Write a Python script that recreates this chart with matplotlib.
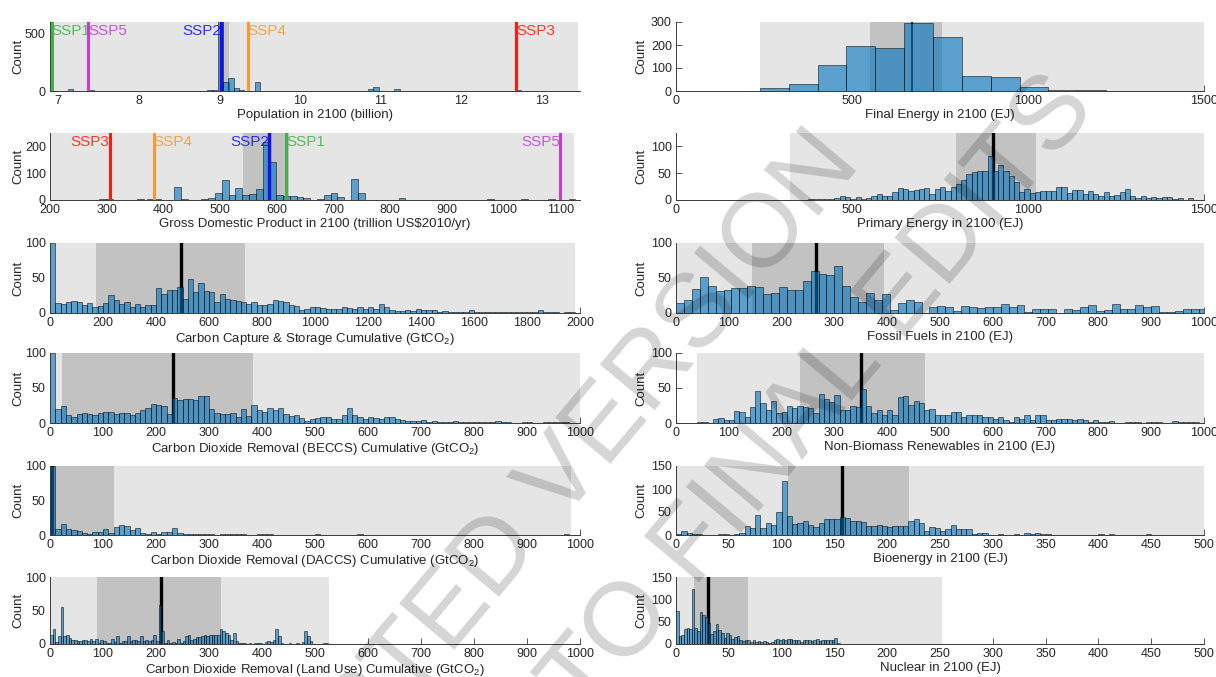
import matplotlib
matplotlib.use('Agg')
import matplotlib.pyplot as plt
import numpy as np

plt.rcParams['font.family'] = ['Liberation Sans', 'DejaVu Sans']
plt.rcParams['mathtext.default'] = 'regular'

# ---------------- data ----------------
# population in 2100 (billion): sparse bins, width 0.066
pop_left = [7.12, 7.38, 7.58, 8.78, 8.85, 8.91, 8.98, 9.05, 9.11, 9.18, 9.24, 9.31,
            9.44, 9.64, 10.84, 10.91, 11.17, 12.60, 12.67, 12.74]
pop_counts = [15, 8, 2, 4, 5, 5, 700, 75, 115, 28, 8, 3,
              75, 2, 15, 38, 15, 3, 5, 4]
pop_stats = (6.9, 13.45, 9.02, 9.12, 9.02)   # min, max, q1, q3, median
pop_ssp = ['SSP1', 'SSP5', 'SSP2', 'SSP4', 'SSP3']
pop_ssp_x = [6.92, 7.37, 9.02, 9.35, 12.68]

# GDP in 2100 (trillion US$2010/yr): sparse bins, width 12
gdp_left = [287, 299, 353, 371, 383, 419, 431, 467, 479, 491, 503, 515, 527, 539, 551,
            563, 575, 587, 599, 611, 623, 635, 647, 671, 683, 695, 707, 731, 743,
            815, 971, 1031, 1079, 1115]
gdp_counts = [3, 5, 3, 4, 4, 50, 2, 4, 6, 25, 75, 20, 45, 18, 22,
              40, 215, 140, 18, 15, 15, 10, 6, 5, 20, 25, 12, 80, 25,
              8, 2, 3, 2, 5]
gdp_stats = (200, 1125, 540, 621, 586)
gdp_ssp = ['SSP3', 'SSP4', 'SSP2', 'SSP1', 'SSP5']
gdp_ssp_x = [305, 383, 587, 617, 1100]

# carbon capture & storage cumulative, bins of 20 from 0
ccs_counts = [100, 14, 13, 16, 17, 16, 12, 14, 8, 10, 14, 25, 19, 13, 15, 8, 13, 9, 11, 11,
              35, 27, 33, 33, 37, 20, 48, 30, 43, 31, 30, 15, 27, 20, 18, 17, 15, 13, 15, 12,
              11, 13, 19, 17, 16, 11, 10, 4, 5, 8, 9, 7, 6, 6, 5, 8, 7, 6, 9, 5,
              8, 5, 13, 8, 4, 3, 3, 4, 3, 5, 4, 4, 4, 2, 3, 2, 2, 1, 2, 4,
              1, 2, 1, 1, 1, 2, 1, 1, 1, 1, 1, 2, 4, 1, 1, 1, 0, 1, 1, 0]
ccs_stats = (0, 1980, 175, 735, 493)

# CDR (BECCS) cumulative, bins of 10 from 0
beccs_counts = [100, 20, 24, 11, 8, 13, 14, 13, 11, 15, 16, 16, 13, 14, 14, 12, 14, 18, 22, 27,
                26, 24, 13, 36, 33, 35, 34, 33, 39, 38, 20, 14, 13, 13, 14, 9, 20, 10, 26, 19,
                16, 22, 18, 21, 13, 10, 12, 7, 3, 6, 7, 8, 8, 6, 6, 11, 22, 11, 8, 6,
                8, 7, 6, 8, 9, 6, 4, 3, 3, 3, 4, 2, 3, 1, 2, 2, 3, 2, 2, 1,
                2, 2, 1, 2, 3, 1, 1, 0, 0, 1, 1, 0, 0, 2, 1, 1, 1, 1, 0, 0]
beccs_stats = (0, 1000, 22, 383, 233)

# CDR (DACCS) cumulative, bins of 10 from 0
daccs_counts = [100, 9, 16, 8, 7, 6, 3, 1, 4, 4, 8, 3, 12, 14, 13, 7, 10, 3, 2, 4,
                2, 4, 4, 10, 3, 1, 1, 1, 1, 2, 1, 0, 1, 1, 2, 1, 1, 0, 0, 2,
                1, 1, 0, 0, 0, 0, 0, 0, 0, 0, 1, 0, 0, 0, 0, 0, 0, 0, 1, 0,
                0, 0, 0, 0, 0, 0, 0, 0, 0, 0, 0, 0, 0, 0, 0, 0, 0, 0, 0, 0,
                0, 0, 0, 0, 0, 0, 0, 0, 0, 0, 0, 0, 0, 0, 0, 0, 0, 1]
daccs_stats = (0, 983, 0, 120, 3)

# CDR (land use) cumulative, bins of 5 from 0
land_counts = [13, 23, 3, 12, 55, 12, 13, 9, 6, 6, 5, 4, 6, 6, 5, 7, 4, 7, 1, 6,
               5, 2, 1, 7, 3, 12, 2, 5, 4, 12, 4, 6, 6, 5, 12, 4, 6, 4, 6, 13,
               4, 58, 20, 2, 6, 1, 3, 2, 8, 2, 4, 12, 13, 6, 8, 10, 10, 12, 14, 12,
               13, 13, 13, 13, 22, 20, 17, 13, 6, 17, 4, 2, 1, 1, 0, 1, 0, 2, 1, 1,
               0, 3, 5, 3, 6, 22, 12, 2, 0, 0, 1, 0, 0, 1, 0, 3, 20, 12, 4, 0,
               0, 0, 0, 1, 1]
land_stats = (0, 527, 88, 323, 210)

# final energy in 2100 (EJ), bins of 82 from 156
fe_counts = [2, 12, 30, 115, 195, 186, 294, 234, 66, 63, 18, 5, 3]
fe_stats = (238, 1500, 552, 756, 670)

# primary energy in 2100 (EJ), bins of 15 from 330
pe_counts = [0, 0, 0, 1, 1, 1, 2, 2, 3, 7, 5, 2, 6, 1, 3, 8, 12, 7, 8, 15,
             23, 20, 16, 19, 20, 22, 12, 20, 24, 16, 24, 30, 38, 48, 52, 54, 55, 82, 55, 65,
             55, 45, 34, 15, 20, 13, 15, 16, 16, 17, 25, 25, 13, 18, 18, 12, 16, 12, 8, 14,
             7, 10, 15, 20, 8, 3, 7, 4, 5, 3, 5, 6, 1, 3, 0, 3, 0, 0]
pe_stats = (325, 1500, 795, 1022, 900)

# fossil fuels in 2100 (EJ), bins of 15 from 0
ff_counts = [14, 19, 34, 51, 39, 31, 33, 35, 36, 38, 37, 27, 28, 37, 33, 33, 46, 60, 55, 54,
             67, 39, 23, 16, 29, 18, 27, 4, 14, 19, 16, 0, 9, 10, 8, 3, 10, 8, 7, 8,
             8, 13, 9, 11, 2, 6, 6, 6, 0, 6, 4, 9, 12, 3, 4, 13, 6, 6, 12, 8,
             10, 1, 2, 3, 5, 6, 5]
ff_stats = (0, 1000, 143, 393, 265)

# non-biomass renewables in 2100 (EJ), bins of 10 from 40
nbr_counts = [1, 2, 0, 6, 7, 4, 5, 17, 16, 9, 23, 46, 28, 19, 32, 15, 16, 25, 21, 24,
              23, 21, 14, 42, 35, 30, 40, 18, 18, 25, 23, 48, 24, 14, 19, 12, 19, 12, 37, 39,
              26, 32, 28, 18, 20, 12, 11, 12, 16, 16, 8, 12, 12, 11, 8, 8, 6, 8, 4, 1,
              9, 6, 11, 4, 11, 11, 5, 4, 6, 6, 6, 4, 6, 4, 2, 4, 2, 1, 3, 0,
              0, 2, 2, 1, 0, 1, 2, 1, 0, 0, 3, 2, 1, 1, 1, 0]
nbr_stats = (40, 1000, 235, 472, 350)

# bioenergy in 2100 (EJ), bins of 5 from 0
bio_counts = [2, 9, 5, 2, 3, 1, 1, 1, 2, 3, 1, 2, 5, 20, 15, 43, 15, 27, 22, 50,
              118, 41, 25, 27, 30, 22, 18, 27, 35, 35, 35, 40, 38, 30, 30, 28, 19, 20, 22, 20,
              18, 19, 19, 20, 30, 35, 26, 8, 18, 15, 8, 12, 22, 12, 12, 13, 3, 5, 5, 1,
              0, 2, 1, 0, 2, 1, 4, 2, 4, 3, 2, 1, 0, 0, 0, 0, 0, 0, 1, 1,
              2, 1, 2, 1, 1, 1, 1, 0, 1, 2, 1, 0, 0, 1, 0, 0, 1, 0, 1, 0]
bio_stats = (0, 500, 106, 221, 157)

# nuclear in 2100 (EJ), bins of 2.5 from 0
nuc_counts = [75, 18, 20, 33, 35, 33, 124, 36, 30, 72, 66, 60, 48, 23, 30, 45, 32, 25, 14, 25,
              20, 12, 15, 18, 10, 6, 8, 10, 5, 8, 5, 6, 4, 6, 4, 3, 4, 10, 12, 9,
              12, 10, 12, 11, 9, 8, 8, 5, 9, 10, 8, 7, 10, 12, 7, 9, 9, 8, 10, 8,
              14, 2, 1, 0, 1, 0, 0, 0, 0, 0, 1, 1, 0, 0, 0, 0, 0, 0, 0, 0,
              0, 0, 0, 0, 0, 0, 0, 0, 0, 0, 0, 1]
nuc_stats = (0, 252, 17, 68, 30)

ssp_colors = {'SSP1': '#3fb34a', 'SSP2': '#1010ff', 'SSP3': '#ff1a0a',
              'SSP4': '#f29a3a', 'SSP5': '#c23fd0'}

# ---------------- figure ----------------
fig = plt.figure(figsize=(12.16, 6.77), dpi=100)

W, H = 1216.0, 677.0
row_px = [(22, 91), (133, 200), (243, 313), (353, 423), (466, 535), (577, 644)]
col_px = [(50, 580), (676, 1204)]
ylab_px = [24, 647]

BAR = '#0072bd'
LIGHT = '#e5e5e5'
DARK = '#c2c2c2'


def make_ax(col, row):
    x0, x1 = col_px[col]
    y0, y1 = row_px[row]
    ax = fig.add_axes([x0 / W, 1 - y1 / H, (x1 - x0) / W, (y1 - y0) / H])
    ax.set_facecolor('none')
    for s in ['top', 'right']:
        ax.spines[s].set_visible(False)
    for s in ['left', 'bottom']:
        ax.spines[s].set_color('#3a3a3a')
        ax.spines[s].set_linewidth(0.7)
    ax.tick_params(direction='in', length=4, width=0.6, color='#3a3a3a',
                   labelsize=9, labelcolor='#262626', pad=3)
    ax.set_axisbelow(True)
    ax.set_ylabel('Count', fontsize=9.5, color='#262626')
    ax.yaxis.set_label_coords((ylab_px[col] - x0) / (x1 - x0), 0.5)
    return ax


def panel(ax, lefts, counts, width, stats, xlim, xticks, ylim, yticks, xlabel, med_lw=2.4):
    lo, hi, q1, q3, med = stats
    ax.axvspan(lo, hi, color=LIGHT, lw=0, zorder=1)
    ax.axvspan(q1, q3, color=DARK, lw=0, zorder=1.1)
    ax.axvline(med, color='k', lw=med_lw, zorder=1.5)
    ax.bar(lefts, counts, width=width, align='edge', color=BAR, alpha=0.6,
           edgecolor='k', linewidth=0.6, zorder=2)
    ax.set_xlim(*xlim)
    ax.set_ylim(*ylim)
    ax.set_xticks(xticks)
    ax.set_yticks(yticks)
    ax.set_xlabel(xlabel, fontsize=9.5, color='#262626', labelpad=1.5)


def ssp_lines(ax, names, xs, aligns, ytext):
    for n, x, a in zip(names, xs, aligns):
        ax.axvline(x, color=ssp_colors[n], lw=2.2, zorder=3)
        ax.text(x, ytext, n, color=ssp_colors[n], fontsize=11, ha=a, va='center',
                zorder=3, alpha=0.85)


def dense(start, width, counts):
    return start + width * np.arange(len(counts))


# left column
ax = make_ax(0, 0)
panel(ax, pop_left, pop_counts, 0.066, pop_stats, (6.9, 13.47), range(7, 14),
      (0, 600), [0, 500], 'Population in 2100 (billion)')
ssp_lines(ax, pop_ssp, pop_ssp_x, ['left', 'left', 'right', 'left', 'left'], 525)

ax = make_ax(0, 1)
panel(ax, gdp_left, gdp_counts, 12, gdp_stats, (200, 1135), range(200, 1101, 100),
      (0, 250), [0, 100, 200], 'Gross Domestic Product in 2100 (trillion US$2010/yr)')
ssp_lines(ax, gdp_ssp, gdp_ssp_x, ['right', 'left', 'right', 'left', 'right'], 218)

ax = make_ax(0, 2)
panel(ax, dense(0, 20, ccs_counts), ccs_counts, 20, ccs_stats, (0, 2000),
      range(0, 2001, 200), (0, 100), [0, 50, 100],
      'Carbon Capture & Storage Cumulative (GtCO$_2$)')

ax = make_ax(0, 3)
panel(ax, dense(0, 10, beccs_counts), beccs_counts, 10, beccs_stats, (0, 1000),
      range(0, 1001, 100), (0, 100), [0, 50, 100],
      'Carbon Dioxide Removal (BECCS) Cumulative (GtCO$_2$)')

ax = make_ax(0, 4)
panel(ax, dense(0, 10, daccs_counts), daccs_counts, 10, daccs_stats, (0, 1000),
      range(0, 1001, 100), (0, 100), [0, 50, 100],
      'Carbon Dioxide Removal (DACCS) Cumulative (GtCO$_2$)')

ax = make_ax(0, 5)
panel(ax, dense(0, 5, land_counts), land_counts, 5, land_stats, (0, 1000),
      range(0, 1001, 100), (0, 100), [0, 50, 100],
      'Carbon Dioxide Removal (Land Use) Cumulative (GtCO$_2$)')

# right column
ax = make_ax(1, 0)
panel(ax, dense(156, 82, fe_counts), fe_counts, 82, fe_stats, (0, 1500),
      [0, 500, 1000, 1500], (0, 300), [0, 100, 200, 300],
      'Final Energy in 2100 (EJ)', med_lw=1.2)

ax = make_ax(1, 1)
panel(ax, dense(330, 15, pe_counts), pe_counts, 15, pe_stats, (0, 1500),
      [0, 500, 1000, 1500], (0, 125), [0, 50, 100], 'Primary Energy in 2100 (EJ)')

ax = make_ax(1, 2)
panel(ax, dense(0, 15, ff_counts), ff_counts, 15, ff_stats, (0, 1000),
      range(0, 1001, 100), (0, 100), [0, 50, 100], 'Fossil Fuels in 2100 (EJ)')

ax = make_ax(1, 3)
panel(ax, dense(40, 10, nbr_counts), nbr_counts, 10, nbr_stats, (0, 1000),
      range(0, 1001, 100), (0, 100), [0, 50, 100], 'Non-Biomass Renewables in 2100 (EJ)')

ax = make_ax(1, 4)
panel(ax, dense(0, 5, bio_counts), bio_counts, 5, bio_stats, (0, 500),
      range(0, 501, 50), (0, 150), [0, 50, 100, 150], 'Bioenergy in 2100 (EJ)')

ax = make_ax(1, 5)
panel(ax, dense(0, 2.5, nuc_counts), nuc_counts, 2.5, nuc_stats, (0, 500),
      range(0, 501, 50), (0, 150), [0, 50, 100, 150], 'Nuclear in 2100 (EJ)')

# watermark
fig.text(520 / W, 1 - 572 / H, 'ACCEPTED VERSION', fontsize=75, color='k', alpha=0.17,
         rotation=50, rotation_mode='anchor', ha='center', va='baseline', zorder=10)
fig.text(680 / W, 1 - 605 / H, 'SUBJECT TO FINAL EDITS', fontsize=75, color='k', alpha=0.17,
         rotation=50, rotation_mode='anchor', ha='center', va='baseline', zorder=10)

fig.savefig('out.png', dpi=100)
